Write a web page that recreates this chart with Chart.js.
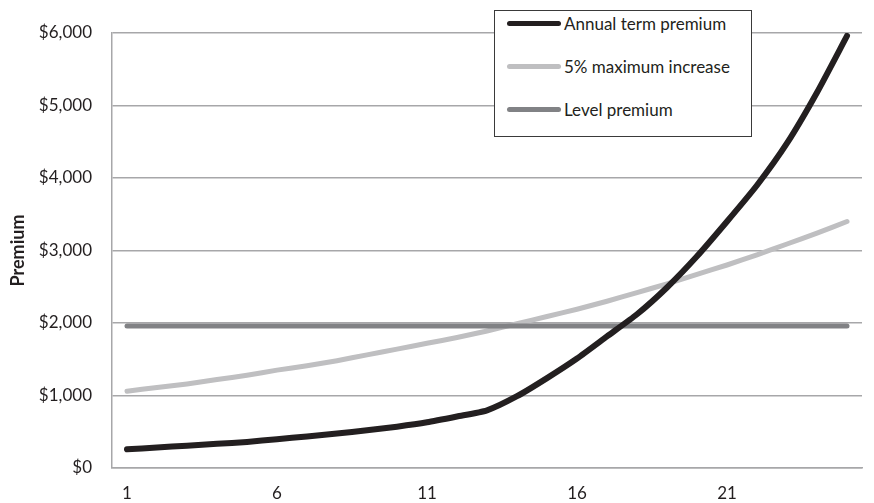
<!DOCTYPE html>
<html lang="en">
<head>
    <meta charset="UTF-8">
    <title>Premium</title>
    <script src="https://cdn.jsdelivr.net/npm/chart.js"></script>
    <style>
        body { margin: 0; background: #fff; font-family: Lato, sans-serif; }
        .wrap { position: relative; width: 874px; height: 503px; }
        #legend { position: absolute; left: 494px; top: 10px; width: 256px; height: 125px;
                  background: #fff; border: 1px solid #3a3a3a; }
        .item { position: absolute; left: 12px; height: 22px; display: flex; align-items: center;
                font-size: 17px; color: #231f20; }
        .swatch { width: 54px; height: 5px; border-radius: 3px; margin-right: 3px; }
    </style>
</head>
<body>
    <div class="wrap">
        <canvas id="chart" width="874" height="503"></canvas>
        <div id="legend"></div>
    </div>

    <script>
        const years = ["1","2","3","4","5","6","7","8","9","10","11","12","13","14","15","16","17","18","19","20","21","22","23","24","25"];
        const tickYears = ["1", "6", "11", "16", "21"];

        const annualTerm = [258, 283, 308, 333, 360, 398, 436, 475, 520, 570, 630, 710, 795, 990, 1240,
                            1510, 1815, 2120, 2490, 2920, 3400, 3900, 4480, 5180, 5960];
        const maxIncrease = [1060, 1110, 1160, 1220, 1280, 1350, 1410, 1480, 1560, 1640, 1720, 1800, 1890,
                             1990, 2090, 2190, 2300, 2420, 2540, 2670, 2800, 2940, 3090, 3240, 3400];
        const levelPremium = [1960, 1960, 1960, 1960, 1960, 1960, 1960, 1960, 1960, 1960, 1960, 1960, 1960,
                              1960, 1960, 1960, 1960, 1960, 1960, 1960, 1960, 1960, 1960, 1960, 1960];

        const seriesNames = ["Annual term premium", "5% maximum increase", "Level premium"];
        const seriesColors = ["#231f20", "#bfbfc1", "#818285"];

        const gridColor = "#a7a7a9";

        const chart = new Chart(document.getElementById("chart"), {
            type: "line",
            data: {
                labels: years,
                datasets: [
                    { label: seriesNames[0], data: annualTerm, borderColor: seriesColors[0], borderWidth: 6, order: 0 },
                    { label: seriesNames[1], data: maxIncrease, borderColor: seriesColors[1], borderWidth: 5, order: 2 },
                    { label: seriesNames[2], data: levelPremium, borderColor: seriesColors[2], borderWidth: 5, order: 1 }
                ]
            },
            options: {
                responsive: false,
                animation: false,
                layout: { padding: { top: 33, right: 12, left: 0, bottom: 0 } },
                elements: {
                    point: { radius: 0 },
                    line: { tension: 0.2, borderCapStyle: "round", borderJoinStyle: "round" }
                },
                plugins: { legend: { display: false }, tooltip: { enabled: false } },
                scales: {
                    x: {
                        offset: true,
                        grid: { display: false, drawTicks: false },
                        border: { display: true, color: gridColor, width: 1.5 },
                        ticks: {
                            autoSkip: false, maxRotation: 0, padding: 15,
                            color: "#231f20", font: { family: "Lato", size: 17 },
                            callback: function (v) {
                                const l = this.getLabelForValue(v);
                                return tickYears.includes(l) ? l : "";
                            }
                        },
                        afterFit: function (s) { s.height = 35; }
                    },
                    y: {
                        min: 0, max: 6000,
                        grid: { color: gridColor, lineWidth: 1.5, drawTicks: false },
                        border: { display: true, color: gridColor, width: 1.5 },
                        ticks: {
                            stepSize: 1000, padding: 20,
                            color: "#231f20", font: { family: "Lato", size: 17 },
                            callback: v => "$" + v.toLocaleString("en-US")
                        },
                        title: {
                            display: true, text: "Premium", color: "#231f20",
                            font: { family: "Lato", size: 18, weight: "bold" },
                            padding: { top: 7, bottom: 0 }
                        },
                        afterFit: function (s) { s.width = 112; }
                    }
                }
            }
        });

        const legend = document.getElementById("legend");
        const rowTops = [1, 44, 87];
        seriesNames.forEach((name, i) => {
            const item = document.createElement("div");
            item.className = "item";
            item.style.top = rowTops[i] + "px";
            item.innerHTML = '<span class="swatch" style="background:' + seriesColors[i] + '"></span>' + name;
            legend.appendChild(item);
        });
    </script>
</body>
</html>
